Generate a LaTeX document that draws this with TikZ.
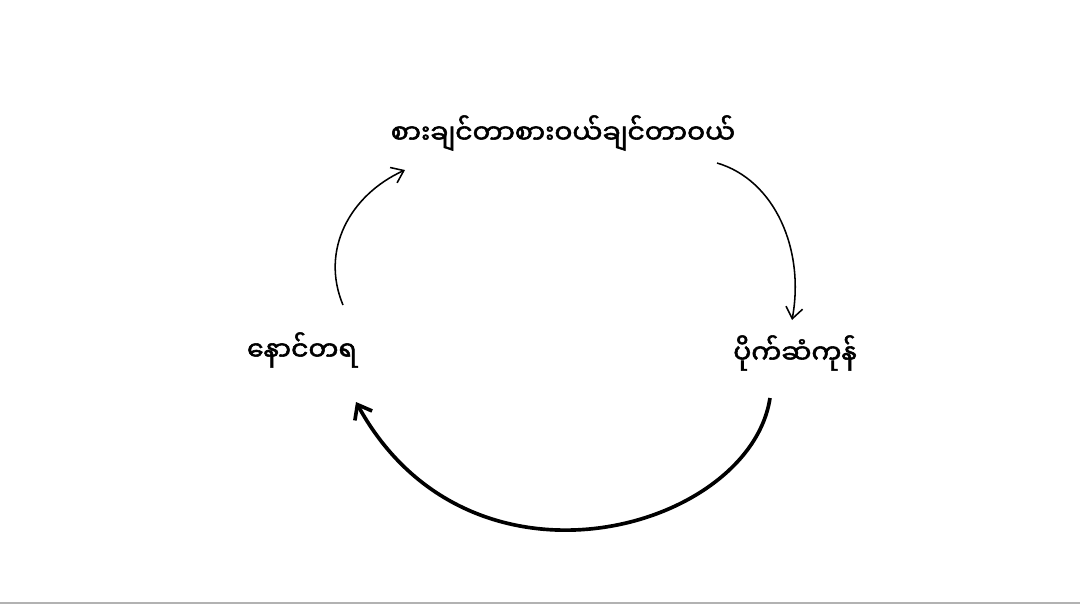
\documentclass[tikz,border=0pt]{standalone}
\usepackage{fontspec}
\newfontfamily\myan[Script=Myanmar,FakeBold=2]{Noto Sans Myanmar UI}
\usetikzlibrary{arrows.meta}
\begin{document}
\begin{tikzpicture}[x=0.025cm,y=-0.025cm]
%define
\tikzset{label/.style={font=\myan\fontsize{19}{23}\selectfont, inner sep=2pt}}
\tikzset{arrowthin/.style={-{Straight Barb[length=8pt,width=12pt]}, line width=1.1pt}}
\tikzset{arrowthick/.style={-{Straight Barb[length=9pt,width=14pt]}, line width=2.6pt}}
\useasboundingbox (0,0) rectangle (1080,605);
\draw[gray!60, line width=1pt] (0,603) -- (1080,603);
%labels
\node[label](eat) at (563,133){စားချင်တာစားဝယ်ချင်တာဝယ်};
\node[label](regret) at (302,350){နောင်တရ};
\node[label](money) at (795,353){ပိုက်ဆံကုန်};
%anchors
\coordinate (a1) at (343,305);
\coordinate (a2) at (405,170);
\coordinate (b1) at (717,163);
\coordinate (b2) at (792,320);
\coordinate (c1) at (770,398);
\coordinate (c2) at (356,402);
%line
\draw[arrowthin](a1) .. controls (320,250) and (350,195) .. (a2);
\draw[arrowthin](b1) .. controls (775,180) and (805,250) .. (b2);
\draw[arrowthick](c1) .. controls (750,530) and (470,610) .. (c2);
\end{tikzpicture}
\end{document}
